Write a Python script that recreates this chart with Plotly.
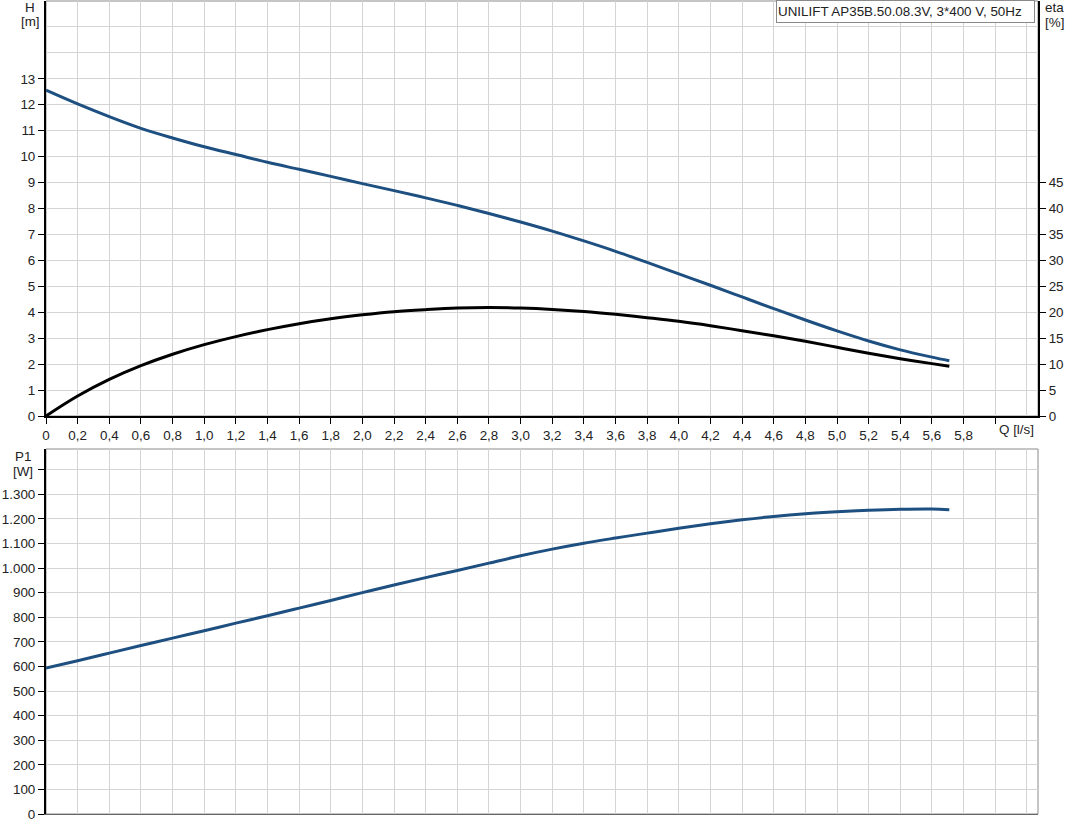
import plotly.graph_objects as go

# ---------------- data ----------------
Q = [0, 0.2, 0.4, 0.6, 0.8, 1.0, 1.2, 1.4, 1.6, 1.8, 2.0, 2.2, 2.4, 2.6, 2.8,
     3.0, 3.2, 3.4, 3.6, 3.8, 4.0, 4.2, 4.4, 4.6, 4.8, 5.0, 5.2, 5.4, 5.6, 5.71]
H = [12.56, 12.03, 11.54, 11.09, 10.72, 10.38, 10.08, 9.78, 9.51, 9.24, 8.96,
     8.69, 8.41, 8.12, 7.81, 7.48, 7.13, 6.75, 6.35, 5.92, 5.48, 5.04, 4.59,
     4.14, 3.70, 3.28, 2.89, 2.55, 2.27, 2.13]
ETA = [0, 3.85, 7.05, 9.7, 11.9, 13.75, 15.3, 16.65, 17.8, 18.75, 19.5, 20.1, 20.5,
       20.8, 20.9, 20.8, 20.55, 20.15, 19.6, 18.95, 18.25, 17.4, 16.45, 15.45, 14.4,
       13.25, 12.1, 11.05, 10.1, 9.6]
P1 = [593, 623, 654, 685, 715, 745, 776, 806, 837, 868, 900, 931, 961, 990,
      1020, 1050, 1077, 1101, 1122, 1142, 1162, 1180, 1196, 1210, 1221, 1229,
      1235, 1239, 1240, 1237]

q_ticks = [round(0.2 * i, 1) for i in range(31)]          # 0 .. 6.0
q_labels = [("0" if v == 0 else f"{v:.1f}".replace(".", ",")) for v in q_ticks[:-1]] + [""]
h_ticks = list(range(0, 14))
eta_ticks = list(range(0, 50, 5))
p_ticks = list(range(0, 1500, 100))
p_labels = [f"{v:,}".replace(",", ".") for v in p_ticks[:-1]] + [""]
title_text = "UNILIFT AP35B.50.08.3V, 3*400 V, 50Hz"

# ---------------- layout geometry ----------------
W, HGT = 1071, 833
ML, MR, MT, MB = 46, 33, 1, 19
PW, PH = W - ML - MR, HGT - MT - MB


def px(x):
    return (x - ML) / PW


def py(y):
    return (HGT - MB - y) / PH


top_dom = [py(416), 1.0]
bot_dom = [0.0, py(449)]

BLUE = "#1d4f80"
GRID = "#d4d4d4"
FONT = dict(family="Liberation Sans, Arial, sans-serif", size=13.4, color="#222")

fig = go.Figure()
fig.add_trace(go.Scatter(x=Q, y=H, mode="lines", line=dict(color=BLUE, width=3, shape="spline"),
                         xaxis="x", yaxis="y", showlegend=False))
fig.add_trace(go.Scatter(x=Q, y=ETA, mode="lines", line=dict(color="black", width=3, shape="spline"),
                         xaxis="x", yaxis="y2", showlegend=False))
fig.add_trace(go.Scatter(x=Q, y=P1, mode="lines", line=dict(color=BLUE, width=3, shape="spline"),
                         xaxis="x2", yaxis="y3", showlegend=False))

XR = [0, PW / 158.2]

fig.update_layout(
    width=W, height=HGT,
    margin=dict(l=ML, r=MR, t=MT, b=MB),
    paper_bgcolor="white", plot_bgcolor="white",
    font=FONT,
    xaxis=dict(domain=[0, 1], anchor="y", range=XR, tickmode="array",
               tickvals=q_ticks, ticktext=q_labels, ticks="outside", ticklen=6,
               tickcolor="black", showgrid=True, gridcolor=GRID, zeroline=False,
               showline=True, linecolor="black", linewidth=2, automargin=False,
               minor=dict(tickmode="array", tickvals=[6.2], showgrid=True, gridcolor=GRID, ticks="")),
    yaxis=dict(domain=top_dom, anchor="x", range=[0, 16], tickmode="array",
               tickvals=h_ticks, ticks="outside", ticklen=6, tickcolor="black",
               showgrid=True, gridcolor=GRID, zeroline=False, automargin=False,
               showline=True, linecolor="black", linewidth=2,
               minor=dict(tickmode="array", tickvals=[14, 15], showgrid=True, gridcolor=GRID, ticks="")),
    yaxis2=dict(overlaying="y", side="right", anchor="x", range=[0, 80],
                tickmode="array", tickvals=eta_ticks, ticks="outside", ticklen=6,
                tickcolor="black", showgrid=False, zeroline=False, automargin=False,
                showline=True, linecolor="black", linewidth=2),
    xaxis2=dict(domain=[0, 1], anchor="y3", range=XR, tickmode="array",
                tickvals=q_ticks + [6.2], showticklabels=False, ticks="",
                showgrid=True, gridcolor=GRID, zeroline=False, automargin=False,
                showline=True, linecolor="#666", linewidth=1),
    yaxis3=dict(domain=bot_dom, anchor="x2", range=[0, 1484], tickmode="array",
                tickvals=p_ticks, ticktext=p_labels, ticks="outside", ticklen=6,
                tickcolor="black", showgrid=True, gridcolor=GRID, zeroline=False,
                showline=True, linecolor="black", linewidth=2, automargin=False),
)

# panel borders (gray)
fig.add_shape(type="rect", xref="paper", yref="paper", x0=0, x1=1,
              y0=top_dom[0], y1=top_dom[1], line=dict(color="#8a8a8a", width=1), layer="below")
fig.add_shape(type="rect", xref="paper", yref="paper", x0=0, x1=1,
              y0=bot_dom[0], y1=bot_dom[1], line=dict(color="#8a8a8a", width=1), layer="below")


def label(text, x, y, xanchor="center"):
    fig.add_annotation(text=text, x=px(x), y=py(y), xref="paper", yref="paper",
                       xanchor=xanchor, yanchor="middle", showarrow=False, font=FONT)


label("H", 29.5, 7)
label("[m]", 30, 22)
label("eta", 1054, 8)
label("[%]", 1054, 23)
label("P1", 22.5, 457)
label("[W]", 23, 472)
label("Q [l/s]", 997, 429, xanchor="left")

fig.add_annotation(text=title_text, x=px(776), y=py(0), xref="paper", yref="paper",
                   xanchor="left", yanchor="top", showarrow=False, font=FONT,
                   align="left", width=255, height=19, borderpad=1,
                   bordercolor="#8a8a8a", borderwidth=1, bgcolor="white")

fig.write_html("out.html", config={"displayModeBar": False},
               post_script="document.body.style.margin='0';document.body.style.overflow='hidden';")
